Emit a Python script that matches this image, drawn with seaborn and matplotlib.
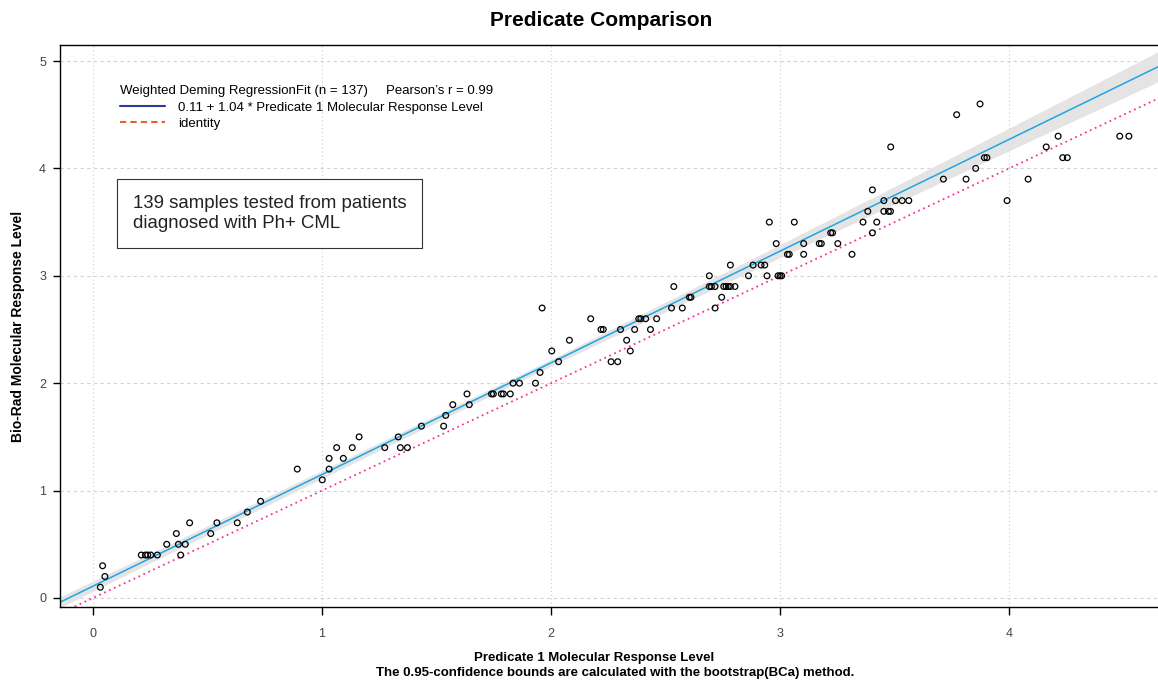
import numpy as np
import pandas as pd
import matplotlib
matplotlib.use("Agg")
import matplotlib.pyplot as plt
from matplotlib.lines import Line2D
import seaborn as sns

# values
pred1 = [0.032, 0.052, 0.042, 0.211, 0.229, 0.239, 0.252, 0.281, 0.322, 0.364,
         0.373, 0.403, 0.383, 0.422, 0.514, 0.541, 0.630, 0.674, 0.732, 0.892,
         1.001, 1.031, 1.031, 1.064, 1.093, 1.132, 1.162, 1.274, 1.333, 1.342,
         1.373, 1.434, 1.531, 1.540, 1.571, 1.633, 1.643, 1.740, 1.748, 1.783,
         1.792, 1.822, 1.834, 1.862, 1.932, 1.952, 1.961, 2.003, 2.033, 2.080,
         2.173, 2.218, 2.228, 2.262, 2.291, 2.303, 2.330, 2.346, 2.365, 2.383,
         2.392, 2.413, 2.434, 2.461, 2.526, 2.536, 2.573, 2.604, 2.611, 2.691,
         2.691, 2.700, 2.716, 2.716, 2.745, 2.754, 2.764, 2.774, 2.783, 2.803,
         2.783, 2.862, 2.882, 2.917, 2.933, 2.943, 2.953, 2.983, 2.991, 3.000,
         3.007, 3.032, 3.040, 3.062, 3.103, 3.103, 3.171, 3.180, 3.221, 3.229,
         3.252, 3.314, 3.362, 3.383, 3.403, 3.403, 3.422, 3.453, 3.453, 3.473,
         3.482, 3.483, 3.504, 3.533, 3.562, 3.713, 3.771, 3.812, 3.854, 3.873,
         3.892, 3.903, 3.991, 4.083, 4.162, 4.214, 4.234, 4.254, 4.483, 4.523]
biorad = [0.1, 0.2, 0.3, 0.4, 0.4, 0.4, 0.4, 0.4, 0.5, 0.6,
          0.5, 0.5, 0.4, 0.7, 0.6, 0.7, 0.7, 0.8, 0.9, 1.2,
          1.1, 1.2, 1.3, 1.4, 1.3, 1.4, 1.5, 1.4, 1.5, 1.4,
          1.4, 1.6, 1.6, 1.7, 1.8, 1.9, 1.8, 1.9, 1.9, 1.9,
          1.9, 1.9, 2.0, 2.0, 2.0, 2.1, 2.7, 2.3, 2.2, 2.4,
          2.6, 2.5, 2.5, 2.2, 2.2, 2.5, 2.4, 2.3, 2.5, 2.6,
          2.6, 2.6, 2.5, 2.6, 2.7, 2.9, 2.7, 2.8, 2.8, 3.0,
          2.9, 2.9, 2.9, 2.7, 2.8, 2.9, 2.9, 2.9, 2.9, 2.9,
          3.1, 3.0, 3.1, 3.1, 3.1, 3.0, 3.5, 3.3, 3.0, 3.0,
          3.0, 3.2, 3.2, 3.5, 3.3, 3.2, 3.3, 3.3, 3.4, 3.4,
          3.3, 3.2, 3.5, 3.6, 3.8, 3.4, 3.5, 3.7, 3.6, 3.6,
          3.6, 4.2, 3.7, 3.7, 3.7, 3.9, 4.5, 3.9, 4.0, 4.6,
          4.1, 4.1, 3.7, 3.9, 4.2, 4.3, 4.1, 4.1, 4.3, 4.3]

intercept = 0.11
slope = 1.04
x_range = [-0.144, 4.65]
y_range = [-0.084, 5.149]

# confidence band half-width, read at a few x positions
band_x = [-0.144, 0.3, 1.1, 2.0, 3.0, 3.9, 4.65]
band_half = [0.05, 0.043, 0.037, 0.031, 0.06, 0.10, 0.14]

legend_title = "Weighted Deming RegressionFit (n = 137)     Pearson\u2019s r = 0.99"
fit_label = "0.11 + 1.04 * Predicate 1 Molecular Response Level"
note = "139 samples tested from patients\ndiagnosed with Ph+ CML"

sns.set_theme(style="ticks")
plt.rcParams['font.family'] = ['Liberation Sans', 'DejaVu Sans']
plt.rcParams['text.color'] = 'black'

fig = plt.figure(figsize=(11.58, 6.81), dpi=100)
ax = fig.add_axes([60 / 1158, 1 - 607 / 681, 1098 / 1158, 562 / 681])

df = pd.DataFrame({"x": pred1, "y": biorad})

bx = np.array(band_x)
bfit = intercept + slope * bx
ax.fill_between(bx, bfit - np.array(band_half), bfit + np.array(band_half),
                color="#e4e4e4", lw=0, zorder=1)

line_x = np.array(x_range)
sns.lineplot(x=line_x, y=intercept + slope * line_x, ax=ax, color="#1ea6e3",
             lw=1.1, zorder=2)
sns.lineplot(x=line_x, y=line_x, ax=ax, color="#f5329c", lw=1.3,
             linestyle=(0, (1, 2)), zorder=2)

sns.scatterplot(data=df, x="x", y="y", ax=ax, marker="o", s=17,
                facecolor="none", edgecolor="black", linewidth=0.9, zorder=4)

ax.set_xlim(x_range)
ax.set_ylim(y_range)
ax.set_xticks([0, 1, 2, 3, 4])
ax.set_yticks([0, 1, 2, 3, 4, 5])
ax.xaxis.grid(True, linestyle=(0, (1, 2.5)), color="#cccccc", lw=0.8)
ax.yaxis.grid(True, linestyle=(0, (3, 3)), color="#d2d2d2", lw=0.8)
ax.set_axisbelow(True)
ax.tick_params(direction="out", width=1, color="black",
               labelcolor="#444444", labelsize=9)
ax.tick_params(axis="x", length=6, pad=9)
ax.tick_params(axis="y", length=5, pad=5)
ax.spines["right"].set_visible(False)
for s in ["left", "bottom", "top"]:
    ax.spines[s].set_color("black")
    ax.spines[s].set_linewidth(1)
ax.set_xlabel("")
ax.set_ylabel("")

handles = [Line2D([], [], color="#2d3c92", lw=1.5),
           Line2D([], [], color="#e8612d", lw=1.5, linestyle=(0, (3, 2)))]
leg = ax.legend(handles, [fit_label, "identity"], title=legend_title,
                loc="upper left", bbox_to_anchor=(0.0546, 0.928),
                frameon=False, fontsize=9.5, title_fontsize=9.5,
                handlelength=3.4, handletextpad=1.0, borderpad=0,
                borderaxespad=0, labelspacing=0.3, alignment="left")
for t in leg.get_texts():
    t.set_color("black")
leg.get_title().set_color("black")

ax.text(0.0665, 0.70, note, transform=ax.transAxes, fontsize=13.4,
        color="#222222", va="center", ha="left", linespacing=1.2,
        bbox=dict(boxstyle="square,pad=0.85", fc="white", ec="#333333", lw=0.8),
        zorder=5)

fig.text(601 / 1158, 1 - 20 / 681, "Predicate Comparison", fontsize=15,
         fontweight="bold", ha="center", va="center", color="black")
fig.text(594 / 1158, 1 - 658 / 681, "Predicate 1 Molecular Response Level",
         fontsize=9.5, fontweight="bold", ha="center", va="center", color="black")
fig.text(615 / 1158, 1 - 673 / 681,
         "The 0.95-confidence bounds are calculated with the bootstrap(BCa) method.",
         fontsize=9.5, fontweight="bold", ha="center", va="center", color="black")
fig.text(18 / 1158, 1 - 326 / 681, "Bio-Rad Molecular Response Level",
         fontsize=10, fontweight="bold", ha="center", va="center", rotation=90,
         color="black")

fig.savefig("out.png", dpi=100)
